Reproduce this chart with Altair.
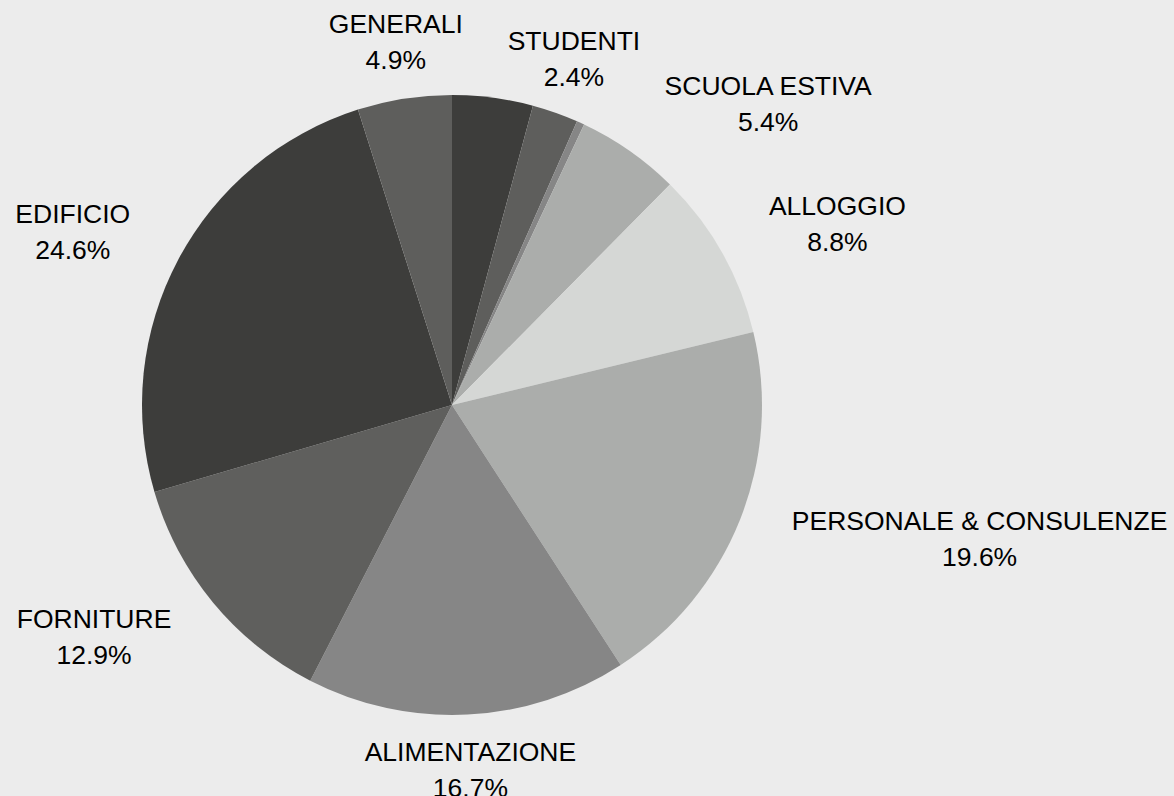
import altair as alt
import pandas as pd

# ---- data ----
categories = ["", "STUDENTI", "", "SCUOLA ESTIVA", "ALLOGGIO",
              "PERSONALE & CONSULENZE", "ALIMENTAZIONE", "FORNITURE",
              "EDIFICIO", "GENERALI"]
values = [4.2, 2.4, 0.4, 5.4, 8.8, 19.6, 16.7, 12.9, 24.6, 4.9]
slice_colors = ["#3d3d3b", "#5e5e5c", "#868686", "#abadab", "#d5d7d5",
                "#abadab", "#868686", "#5f5f5d", "#3d3d3b", "#5e5e5c"]

df = pd.DataFrame({"idx": list(range(len(values))),
                   "name": categories, "value": values})

# ---- layout ----
W, H = 1174, 796
CX, CY = 452, 405
RADIUS = 310
LABEL_R = 366
FS = 26.5
LH = 36

base = alt.Chart(df)

pie = base.mark_arc(radius=RADIUS, stroke=None).encode(
    theta=alt.Theta("value:Q", stack=True),
    order=alt.Order("idx:Q"),
    color=alt.Color("idx:N",
                    scale=alt.Scale(domain=list(range(len(values))),
                                    range=slice_colors),
                    legend=None),
    x=alt.value(CX),
    y=alt.value(CY),
)

labels = base.transform_joinaggregate(
    total="sum(value)"
).transform_window(
    cum="sum(value)", sort=[alt.SortField("idx")], frame=[None, 0]
).transform_calculate(
    ang="(datum.cum - datum.value / 2) / datum.total * 2 * PI",
    s="sin(datum.ang)",
    c="cos(datum.ang)",
    w=f"{FS} * (0.68 * length(datum.name) - 0.402 * (length(datum.name) - length(replace(datum.name, regexp('[I ]', 'g'), ''))))",
    off="abs(datum.s) < 0.45 ? 0 : (datum.s > 0 ? 1 : -1) * datum.w / 2",
    lx=f"{CX} + {LABEL_R} * datum.s + datum.off",
    ly=f"{CY} - {LABEL_R} * datum.c",
    label="datum.name + '\\n' + format(datum.value / datum.total * 100, '.1f') + '%'",
).transform_filter(
    "datum.name != ''"
).mark_text(
    font="Liberation Sans", fontSize=FS, color="#000000",
    align="center", baseline="middle", lineBreak="\n", lineHeight=LH,
    dy=-LH / 2,
).encode(
    x=alt.X("lx:Q", scale=None, axis=None),
    y=alt.Y("ly:Q", scale=None, axis=None),
    text="label:N",
)

chart = alt.layer(pie, labels).properties(
    width=W, height=H,
    autosize=alt.AutoSizeParams(type="none"),
    padding=0,
    background="#ececec",
).configure_view(stroke=None)

chart.save("out.html", embed_options={"renderer": "svg", "actions": False})
